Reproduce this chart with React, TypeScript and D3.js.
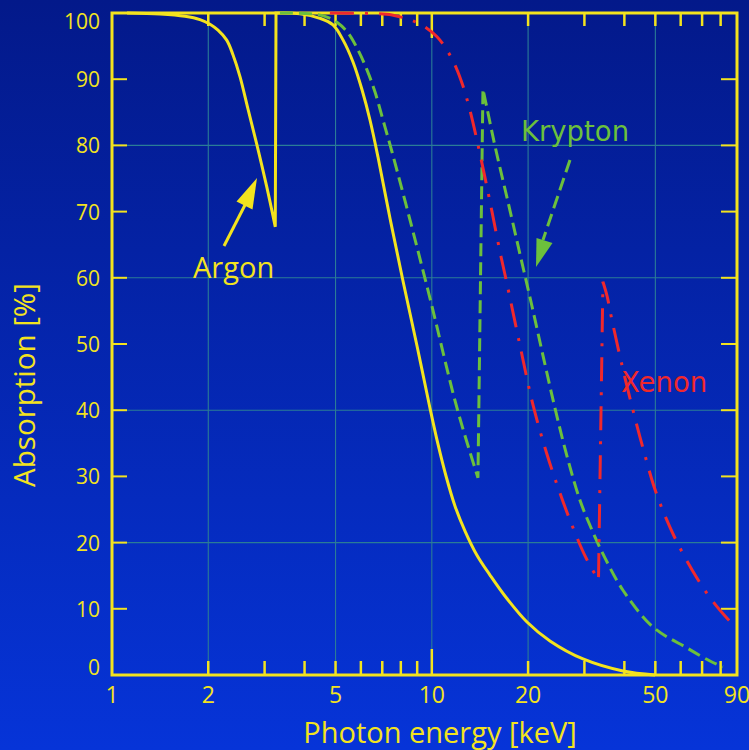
import React from "react";
import * as d3 from "d3";

// ---- data (energy keV, absorption %) ----
const argonLow: [number, number][] = [
  [1.114, 100], [1.413, 99.85], [1.691, 99.5], [1.884, 99.0], [2.025, 98.3],
  [2.145, 97.4], [2.284, 95.9], [2.389, 93.7], [2.513, 90.4], [2.662, 85.5],
  [2.835, 80.2], [3.045, 73.8], [3.24, 67.7],
];
const argonHigh: [number, number][] = [
  [3.257, 100], [3.87, 99.9], [4.47, 99.2], [4.91, 98.2], [5.28, 95.9], [5.67, 92.6],
  [6.05, 88.4], [6.41, 83.8], [6.79, 78.2], [7.4, 69.0], [8.12, 59.6], [8.99, 49.7],
  [9.87, 40.3], [10.45, 34.9], [11.07, 30.1], [11.82, 25.5], [12.7, 21.75],
  [13.84, 18.1], [15.2, 15.1], [16.93, 11.93], [19.84, 8.0], [23.41, 5.14],
  [29.7, 2.42], [39.6, 0.6], [49.9, 0],
];
const kryptonLow: [number, number][] = [
  [3.35, 100], [4.16, 99.9], [4.63, 99.5], [5.05, 98.6], [5.47, 97.0], [5.88, 94.4],
  [6.27, 91.4], [6.64, 88.1], [7.04, 83.8], [7.51, 79.0], [8.55, 68.7], [9.87, 56.9],
  [11.99, 40.3], [13.94, 29.8],
];
const kryptonHigh: [number, number][] = [
  [14.45, 88.5], [14.88, 85.6], [15.76, 79.9], [17.3, 71.5], [18.86, 63.6],
  [20.57, 55.7], [22.42, 47.6], [24.44, 39.7], [26.65, 32.5], [29.06, 26.4],
  [31.68, 21.9], [34.78, 17.7], [39.6, 12.8], [49.15, 7.25], [62.8, 4.08],
  [74.1, 2.11], [81.3, 1.21],
];
const xenonLow: [number, number][] = [
  [4.8, 100], [6.69, 99.9], [7.51, 99.7], [8.12, 99.3], [8.73, 98.8], [9.52, 97.9],
  [10.38, 96.4], [11.15, 94.4], [11.9, 91.8], [12.51, 89.0], [13.16, 85.3],
  [13.94, 80.1], [15.2, 71.5], [16.34, 63.9], [17.18, 59.1], [18.86, 49.8],
  [20.72, 40.8], [22.86, 33.5], [24.86, 28.2], [27.04, 23.4], [30.27, 17.8],
  [33.2, 14.35],
];
const xenonHigh: [number, number][] = [
  [34.28, 59.4], [35.29, 57.3], [36.59, 53.6], [39.32, 46.8], [42.56, 40.0],
  [45.73, 34.3], [50.22, 27.6], [57.18, 21.0], [67.45, 14.65], [76.8, 10.7],
  [86.6, 7.8],
];

const xTickLabels = [1, 2, 5, 10, 20, 50, 90];
const xMinorTicks = [2, 3, 4, 5, 6, 7, 8, 9, 20, 30, 40, 50, 60, 70, 80];
const xMajorTicks = [10];
const xGrid = [2, 5, 10, 20, 50];
const yTicks = [0, 10, 20, 30, 40, 50, 60, 70, 80, 90, 100];
const yGrid = [20, 40, 60, 80];

const W = 749;
const H = 750;
const YEL = "#f3e31e";
const GREEN = "#6cc03c";
const RED = "#f0282c";
const GRID = "#2b7c96";
const FONT = "'Open Sans', sans-serif";
const FONT2 = "'DejaVu Sans', sans-serif";

export default function App() {
  const x = d3.scaleLog().domain([1, 90]).range([112, 737]);
  const y = d3.scaleLinear().domain([0, 100]).range([675, 13]);
  const line = d3
    .line<[number, number]>()
    .x((d) => x(d[0]))
    .y((d) => y(d[1]))
    .curve(d3.curveCatmullRom.alpha(0.5));
  const join = (a: [number, number][], b: [number, number][]) =>
    (line(a) || "") + (line(b) || "").replace(/^M/, "L");

  const [x0, x1] = x.range();
  const [y0, y1] = y.range();

  return (
    <svg
      width={W}
      height={H}
      style={{ position: "absolute", left: 0, top: 0, display: "block" }}
    >
      <defs>
        <linearGradient id="bg" x1="0" y1="0" x2="0" y2="1">
          <stop offset="0" stopColor="#03198a" />
          <stop offset="1" stopColor="#0634d8" />
        </linearGradient>
      </defs>
      <rect x={0} y={0} width={W} height={H} fill="url(#bg)" />

      {/* grid */}
      {xGrid.map((v) => (
        <line key={"gx" + v} x1={x(v)} x2={x(v)} y1={y1} y2={y0} stroke={GRID} strokeWidth={1.1} />
      ))}
      {yGrid.map((v) => (
        <line key={"gy" + v} x1={x0} x2={x1} y1={y(v)} y2={y(v)} stroke={GRID} strokeWidth={1.1} />
      ))}

      {/* ticks */}
      {xMinorTicks.map((v) => (
        <g key={"tx" + v}>
          <line x1={x(v)} x2={x(v)} y1={y1} y2={y1 + 13} stroke={YEL} strokeWidth={2.5} />
          <line x1={x(v)} x2={x(v)} y1={y0} y2={y0 - 14} stroke={YEL} strokeWidth={2.5} />
        </g>
      ))}
      {xMajorTicks.map((v) => (
        <g key={"txm" + v}>
          <line x1={x(v)} x2={x(v)} y1={y1} y2={y1 + 25} stroke={YEL} strokeWidth={2.5} />
          <line x1={x(v)} x2={x(v)} y1={y0} y2={y0 - 26} stroke={YEL} strokeWidth={2.5} />
        </g>
      ))}
      {yTicks.map((v) => (
        <g key={"ty" + v}>
          <line x1={x0} x2={x0 + 15} y1={y(v)} y2={y(v)} stroke={YEL} strokeWidth={2} />
          <line x1={x1} x2={x1 - 16} y1={y(v)} y2={y(v)} stroke={YEL} strokeWidth={2} />
        </g>
      ))}

      {/* frame */}
      <rect x={x0} y={y1} width={x1 - x0} height={y0 - y1} fill="none" stroke={YEL} strokeWidth={3} />

      {/* tick labels */}
      {yTicks.map((v) => (
        <text
          key={"ly" + v}
          x={100}
          y={y(v) + (v === 100 ? 8 : v === 0 ? -8 : 0)}
          textAnchor="end"
          dominantBaseline="central"
          fill={YEL}
          fontFamily={FONT}
          fontSize={21}
        >
          {v}
        </text>
      ))}
      {xTickLabels.map((v) => (
        <text
          key={"lx" + v}
          x={x(v)}
          y={703}
          textAnchor="middle"
          fill={YEL}
          fontFamily={FONT}
          fontSize={23}
        >
          {v}
        </text>
      ))}

      {/* axis titles */}
      <text
        transform={`translate(35,${385}) rotate(-90)`}
        textAnchor="middle"
        fill={YEL}
        fontFamily={FONT}
        fontSize={29.5}
      >
        Absorption [%]
      </text>
      <text x={440} y={743} textAnchor="middle" fill={YEL} fontFamily={FONT} fontSize={29}>
        Photon energy [keV]
      </text>

      {/* curves */}
      <path d={join(argonLow, argonHigh)} fill="none" stroke={YEL} strokeWidth={3} />
      <path
        d={join(kryptonLow, kryptonHigh)}
        fill="none"
        stroke={GREEN}
        strokeWidth={3}
        strokeDasharray="13,6"
      />
      <path
        d={join(xenonLow, xenonHigh)}
        fill="none"
        stroke={RED}
        strokeWidth={3}
        strokeDasharray="24,11,3,11"
      />

      {/* annotations */}
      <line x1={224} y1={246} x2={246} y2={203} stroke={YEL} strokeWidth={3} />
      <polygon points="257,178 236.5,201.5 252.5,209.5" fill={YEL} />
      <text x={193} y={278} fill={YEL} fontFamily={FONT} fontSize={29}>
        Argon
      </text>

      <line x1={570} y1={160} x2={543} y2={240} stroke={GREEN} strokeWidth={3} strokeDasharray="13,6" />
      <polygon points="536,267 536.5,238 552.5,243" fill={GREEN} />
      <text x={521} y={141} fill={GREEN} fontFamily={FONT2} fontSize={27.5}>
        Krypton
      </text>

      <text x={621} y={392} fill={RED} fontFamily={FONT2} fontSize={27.5}>
        Xenon
      </text>
    </svg>
  );
}
